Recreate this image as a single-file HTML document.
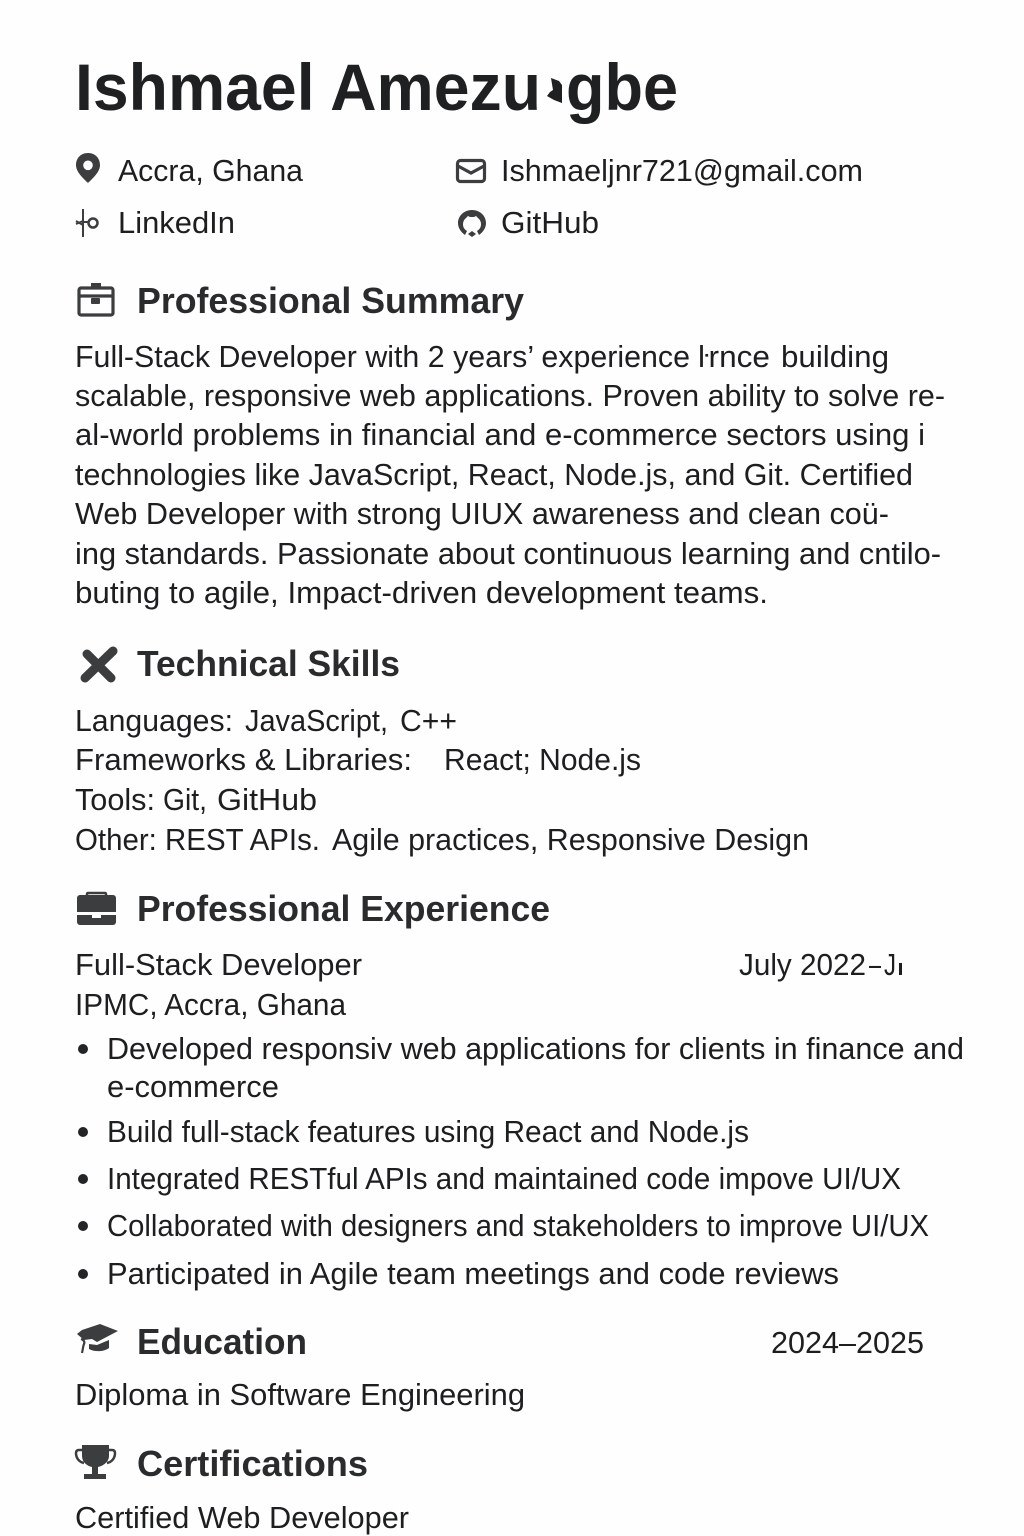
<!DOCTYPE html>
<html lang="en">
<head>
<meta charset="utf-8">
<title>Ishmael Amezugbe Resume</title>
<style>
html,body{margin:0;padding:0;background:#fff;width:1024px;height:1536px;overflow:hidden}
svg{display:block}
text{font-family:"Liberation Sans",sans-serif;fill:#1d1e1f;white-space:pre}
.b{font-size:31px}
.c{font-size:31px}
.h{font-size:36px;font-weight:bold;fill:#2a2b2c}
.ic{fill:#3c3d3f}
.ol{fill:none;stroke:#3c3d3f;stroke-width:3.2}
</style>
</head>
<body>
<svg xmlns="http://www.w3.org/2000/svg" width="1024" height="1536" viewBox="0 0 1024 1536">
<rect width="1024" height="1536" fill="#fefefe"/>

<g>
<text x="75" y="110" font-size="66" font-weight="bold" style="fill:#1f2021" textLength="466" lengthAdjust="spacingAndGlyphs">Ishmael Amezu</text>
<path d="M551 78l8 3 3 4v18l-8-3-7-4 3-4 3-2-1-6z" fill="#1f2021"/>
<text x="566" y="110" font-size="66" font-weight="bold" style="fill:#1f2021" textLength="112" lengthAdjust="spacingAndGlyphs">gbe</text>
</g>

<path class="ic" fill-rule="evenodd" d="M88 153c-7.500 0-12 5.500-12 12 0 7 7 13 12 18 5-5 12-11 12-18 0-6.500-4.500-12-12-12zm0 7.500a4.800 4.800 0 1 1 0 9.600a4.800 4.800 0 0 1 0-9.600z"/>
<text class="c" x="118" y="181" textLength="185" lengthAdjust="spacingAndGlyphs">Accra, Ghana</text>
<g><rect class="ol" x="457.500" y="160.500" width="27" height="21" rx="3"/><path class="ol" d="M458 166l13 7 13-7"/></g>
<text class="c" x="501" y="181" textLength="362" lengthAdjust="spacingAndGlyphs">Ishmaeljnr721@gmail.com</text>
<g><path d="M83 209v28M76 224l7-3M76 221l7 4M83 222h5" fill="none" stroke="#3c3d3f" stroke-width="2"/><circle cx="93" cy="223" r="4.500" fill="none" stroke="#3c3d3f" stroke-width="2.500"/></g>
<text class="c" x="118" y="233" textLength="117" lengthAdjust="spacingAndGlyphs">LinkedIn</text>
<path class="ic" fill-rule="evenodd" d="M472 210c-8 0-14 6-14 13 0 5 3 9 7 12l2-4c-3-2-4-4-4-7 0-2 1-4 2-5l3-3 2 1h4l2-1 3 3c1 1 2 3 2 5 0 3-1 5-4 7l2 4c4-3 7-7 7-12 0-7-6-13-14-13zm-4 24l4-3 4 3-4 3z"/>
<text class="c" x="501" y="233" textLength="98" lengthAdjust="spacingAndGlyphs">GitHub</text>

<g><rect class="ol" x="79" y="288" width="34" height="27" rx="2"/><path class="ol" d="M79 296h34"/><rect class="ic" x="91" y="283" width="10" height="6"/><rect class="ic" x="91" y="298" width="9" height="6" rx="1"/></g>
<text class="h" x="137" y="313" textLength="387" lengthAdjust="spacingAndGlyphs">Professional Summary</text>

<g>
<text class="b" x="75" y="367" textLength="615" lengthAdjust="spacingAndGlyphs">Full-Stack Developer with 2 years’ experience</text>
<text class="b" x="698" y="367" textLength="72" lengthAdjust="spacingAndGlyphs">ŀrnce</text>
<text class="b" x="781" y="367" textLength="108" lengthAdjust="spacingAndGlyphs">building</text>
<text class="b" x="75" y="406" textLength="870" lengthAdjust="spacingAndGlyphs">scalable, responsive web applications. Proven ability to solve re-</text>
<text class="b" x="75" y="445" textLength="850" lengthAdjust="spacingAndGlyphs">al-world problems in financial and e-commerce sectors using i</text>
<text class="b" x="75" y="485" textLength="838" lengthAdjust="spacingAndGlyphs">technologies like JavaScript, React, Node.js, and Git. Certified</text>
<text class="b" x="75" y="524" textLength="814" lengthAdjust="spacingAndGlyphs">Web Developer with strong UIUX awareness and clean coü-</text>
<text class="b" x="75" y="564" textLength="866" lengthAdjust="spacingAndGlyphs">ing standards. Passionate about continuous learning and cntilo-</text>
<text class="b" x="75" y="603" textLength="693" lengthAdjust="spacingAndGlyphs">buting to agile, Impact-driven development teams.</text>
</g>

<g><path d="M85 678l28-27" fill="none" stroke="#3c3d3f" stroke-width="9" stroke-linecap="round"/><path d="M87 654l24 24" fill="none" stroke="#3c3d3f" stroke-width="9" stroke-linecap="round"/></g>
<text class="h" x="137" y="676" textLength="263" lengthAdjust="spacingAndGlyphs">Technical Skills</text>

<g>
<text class="b" x="75" y="731" textLength="158" lengthAdjust="spacingAndGlyphs">Languages:</text>
<text class="b" x="245" y="731" textLength="143" lengthAdjust="spacingAndGlyphs">JavaScript,</text>
<text class="b" x="400" y="731" textLength="57" lengthAdjust="spacingAndGlyphs">C++</text>
</g>
<text class="b" x="75" y="770" textLength="337" lengthAdjust="spacingAndGlyphs">Frameworks &amp; Libraries:</text>
<text class="b" x="444" y="770" textLength="197" lengthAdjust="spacingAndGlyphs">React; Node.js</text>
<g>
<text class="b" x="75" y="810" textLength="80" lengthAdjust="spacingAndGlyphs">Tools:</text>
<text class="b" x="163" y="810" textLength="44" lengthAdjust="spacingAndGlyphs">Git,</text>
<text class="b" x="217" y="810" textLength="100" lengthAdjust="spacingAndGlyphs">GitHub</text>
</g>
<g>
<text class="b" x="75" y="850" textLength="245" lengthAdjust="spacingAndGlyphs">Other: REST APIs.</text>
<text class="b" x="332" y="850" textLength="477" lengthAdjust="spacingAndGlyphs">Agile practices, Responsive Design</text>
</g>

<g><path class="ic" d="M77 898a3 3 0 0 1 3-3h33a3 3 0 0 1 3 3v14H77zM77 915h15v3h9v-3h15v7a3 3 0 0 1-3 3H80a3 3 0 0 1-3-3z"/><path d="M87 896v-2a1 1 0 0 1 1-1h17a1 1 0 0 1 1 1v2" fill="none" stroke="#3c3d3f" stroke-width="2.500"/></g>
<text class="h" x="137" y="921" textLength="413" lengthAdjust="spacingAndGlyphs">Professional Experience</text>

<text class="b" x="75" y="975" textLength="287" lengthAdjust="spacingAndGlyphs">Full-Stack Developer</text>
<g>
<text class="b" x="739" y="975" textLength="127" lengthAdjust="spacingAndGlyphs">July 2022</text>
<text class="b" x="869" y="975" textLength="12" lengthAdjust="spacingAndGlyphs">–</text>
<text class="b" x="884" y="975" textLength="12" lengthAdjust="spacingAndGlyphs">J</text>
<rect x="899" y="963" width="3" height="12" fill="#1d1e1f"/>
</g>
<text class="b" x="75" y="1015" textLength="271" lengthAdjust="spacingAndGlyphs">IPMC, Accra, Ghana</text>

<circle cx="83" cy="1049" r="5" fill="#232425"/>
<text class="b" x="107" y="1059" textLength="857" lengthAdjust="spacingAndGlyphs">Developed responsiv web applications for clients in finance and</text>
<text class="b" x="107" y="1097" textLength="172" lengthAdjust="spacingAndGlyphs">e-commerce</text>
<circle cx="83" cy="1132" r="5" fill="#232425"/>
<text class="b" x="107" y="1142" textLength="642" lengthAdjust="spacingAndGlyphs">Build full-stack features using React and Node.js</text>
<circle cx="83" cy="1179" r="5" fill="#232425"/>
<text class="b" x="107" y="1189" textLength="794" lengthAdjust="spacingAndGlyphs">Integrated RESTful APIs and maintained code impove UI/UX</text>
<circle cx="83" cy="1226" r="5" fill="#232425"/>
<text class="b" x="107" y="1236" textLength="822" lengthAdjust="spacingAndGlyphs">Collaborated with designers and stakeholders to improve UI/UX</text>
<circle cx="83" cy="1274" r="5" fill="#232425"/>
<text class="b" x="107" y="1284" textLength="732" lengthAdjust="spacingAndGlyphs">Participated in Agile team meetings and code reviews</text>

<g><path class="ic" d="M77 1334l5-4 18-6 18 7-21 11-5-3-8 1z"/><path class="ic" d="M89 1344l8 1 12-5v8c-5 4-15 4-20 1z"/><path d="M81 1339c3 1 4 3 3 5-1 2-1 5-2 9" fill="none" stroke="#3c3d3f" stroke-width="2.200"/></g>
<text class="h" x="137" y="1354" textLength="170" lengthAdjust="spacingAndGlyphs">Education</text>
<text class="b" x="771" y="1353" textLength="153" lengthAdjust="spacingAndGlyphs">2024–2025</text>
<text class="b" x="75" y="1405" textLength="450" lengthAdjust="spacingAndGlyphs">Diploma in Software Engineering</text>

<g><path class="ic" d="M82 1445h27v11c0 6-6 10-11 11v7h8v5H84v-5h8v-7c-5-1-10-5-10-11z"/><path d="M82 1450h-3c-2 0-3 1-3 3 0 5 3 9 8 10M109 1450h3c2 0 3 1 3 3 0 5-3 9-8 10" fill="none" stroke="#3c3d3f" stroke-width="2.500"/></g>
<text class="h" x="137" y="1476" textLength="231" lengthAdjust="spacingAndGlyphs">Certifications</text>
<text class="b" x="75" y="1528" textLength="334" lengthAdjust="spacingAndGlyphs">Certified Web Developer</text>
</svg>
</body>
</html>
